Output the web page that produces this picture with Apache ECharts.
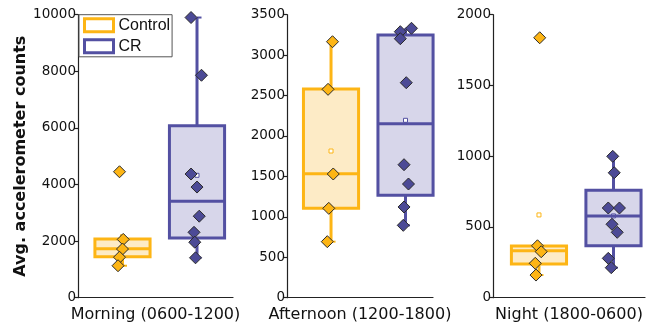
<!DOCTYPE html>
<html>
<head>
<meta charset="utf-8">
<script src="https://cdn.jsdelivr.net/npm/echarts@6/dist/echarts.min.js"></script>
<style>
  html, body { margin: 0; padding: 0; background: #fff; }
  #chart { width: 647px; height: 336px; }
</style>
</head>
<body>
<div id="chart"></div>
<script>
// Groups and time-of-day windows
const groups = ['Control', 'CR'];
const periods = ['Morning (0600-1200)', 'Afternoon (1200-1800)', 'Night (1800-0600)'];

// Y-axis range and tick step for each window
const yAxisMax = [10000, 3500, 2000];
const yTickStep = [2000, 500, 500];

// Box summaries per window: [lower whisker, Q1, median, Q3, upper whisker]
const controlBox = [
  [1130, 1450, 1730, 2070, 2070],
  [693, 1105, 1533, 2581, 3166],
  [160, 238, 332, 365, 365]
];
const crBox = [
  [1410, 2110, 3406, 6078, 9900],
  [895, 1266, 2152, 3249, 3332],
  [212, 367, 577, 759, 999]
];
const controlMean = [2156, 1814, 585];
const crMean = [4325, 2194, 578];

// Individual animals per window
const controlValues = [
  [4450, 2060, 1720, 1430, 1130],
  [3166, 2577, 1530, 1105, 693],
  [1837, 367, 325, 243, 160]
];
const crValues = [
  [9900, 7860, 4370, 3910, 2880, 2310, 1960, 1410],
  [3332, 3290, 3203, 2659, 1645, 1406, 1122, 895],
  [999, 883, 634, 634, 519, 462, 278, 212]
];
// Horizontal jitter of each point, in group-slot units
const controlJitter = [
  [-0.04, 0.01, 0.00, -0.04, -0.06],
  [0.02, -0.04, 0.03, -0.03, -0.05],
  [0.01, -0.02, 0.03, -0.05, -0.04]
];
const crJitter = [
  [-0.08, 0.06, -0.08, 0.00, 0.03, -0.04, -0.03, -0.02],
  [0.08, -0.07, -0.07, 0.01, -0.02, 0.04, -0.02, -0.03],
  [-0.01, 0.01, -0.07, 0.08, -0.02, 0.05, -0.07, -0.03]
];

const palette = {
  Control: { stroke: '#FDB515', fill: '#FDEBC6', point: '#FDB515' },
  CR: { stroke: '#5350A2', fill: '#D7D6EA', point: '#4C4A96' }
};

// Panel placement and the x-extent around the two group slots (1 and 2)
const panels = [
  { left: 78, width: 155, xMin: 0.403, xMax: 2.483 },
  { left: 287, width: 146, xMin: 0.409, xMax: 2.369 },
  { left: 493, width: 152, xMin: 0.383, xMax: 2.423 }
];

const axisFont = 'DejaVu Sans';
const axisColor = '#222';

function boxRenderer(col) {
  return function (params, api) {
    const x = api.value(0);
    const lo = api.value(1), q1 = api.value(2), md = api.value(3),
          q3 = api.value(4), hi = api.value(5), mean = api.value(6);
    const half = api.size([0.37, 0])[0];
    const cx = api.coord([x, md])[0];
    const y = v => api.coord([x, v])[1];
    const kids = [];
    const wStyle = { stroke: col.stroke, lineWidth: 3, fill: null };
    const capStyle = { stroke: col.stroke, lineWidth: 2, fill: null };
    if (hi > q3) {
      kids.push({ type: 'line', shape: { x1: cx, y1: y(q3), x2: cx, y2: y(hi) }, style: wStyle });
      kids.push({ type: 'line', shape: { x1: cx, y1: y(hi), x2: cx + 4.5, y2: y(hi) }, style: capStyle });
    }
    if (lo < q1) {
      kids.push({ type: 'line', shape: { x1: cx, y1: y(q1), x2: cx, y2: y(lo) }, style: wStyle });
      kids.push({ type: 'line', shape: { x1: cx, y1: y(lo), x2: cx + 4.5, y2: y(lo) }, style: capStyle });
    }
    kids.push({
      type: 'rect',
      shape: { x: cx - half, y: y(q3), width: half * 2, height: y(q1) - y(q3) },
      style: { fill: col.fill, stroke: col.stroke, lineWidth: 3 }
    });
    // mean marker sits under the median line
    kids.push({
      type: 'rect',
      shape: { x: cx - 2, y: y(mean) - 2, width: 4, height: 4 },
      style: { fill: '#fff', stroke: col.stroke, lineWidth: 1 }
    });
    kids.push({ type: 'line', shape: { x1: cx - half, y1: y(md), x2: cx + half, y2: y(md) }, style: wStyle });
    return { type: 'group', children: kids };
  };
}

const grid = [], xAxis = [], yAxis = [], series = [];

panels.forEach((p, i) => {
  grid.push({ left: p.left, width: p.width, top: 14.7, height: 283 });
  xAxis.push({
    gridIndex: i, type: 'value', min: p.xMin, max: p.xMax,
    axisLine: { show: true, onZero: false, lineStyle: { color: axisColor, width: 1.2 } },
    axisTick: { show: false }, axisLabel: { show: false }, splitLine: { show: false },
    name: periods[i], nameLocation: 'middle', nameGap: 9,
    nameTextStyle: { fontFamily: axisFont, fontSize: 16, color: '#111' }
  });
  const ya = {
    gridIndex: i, type: 'value', min: 0, max: yAxisMax[i], interval: yTickStep[i],
    axisLine: { show: true, lineStyle: { color: axisColor, width: 1.2 } },
    axisTick: { show: true, length: 4, lineStyle: { color: axisColor, width: 1.2 } },
    axisLabel: { margin: 2, fontFamily: axisFont, fontSize: 13.5, color: '#111', formatter: v => String(v) },
    splitLine: { show: false }
  };
  if (i === 0) {
    ya.name = 'Avg. accelerometer counts';
    ya.nameLocation = 'middle';
    ya.nameGap = 46;
    ya.nameTextStyle = { fontFamily: axisFont, fontSize: 16, fontWeight: 'bold', color: '#111' };
  }
  yAxis.push(ya);

  const sets = [
    { name: 'Control', slot: 1, box: controlBox[i], mean: controlMean[i], vals: controlValues[i], jit: controlJitter[i] },
    { name: 'CR', slot: 2, box: crBox[i], mean: crMean[i], vals: crValues[i], jit: crJitter[i] }
  ];
  sets.forEach(s => {
    const col = palette[s.name];
    series.push({
      name: s.name, type: 'custom', xAxisIndex: i, yAxisIndex: i, z: 2,
      renderItem: boxRenderer(col),
      encode: { x: 0, y: [1, 2, 3, 4, 5, 6] },
      itemStyle: { color: col.stroke },
      data: [[s.slot].concat(s.box, [s.mean])]
    });
    series.push({
      name: s.name + ' points', type: 'scatter', xAxisIndex: i, yAxisIndex: i, z: 3,
      symbol: 'diamond', symbolSize: 12,
      itemStyle: { color: col.point, borderColor: '#2b2b2b', borderWidth: 1, opacity: 1 },
      data: s.vals.map((v, k) => [s.slot + s.jit[k], v])
    });
  });
});

const chart = echarts.init(document.getElementById('chart'), null, { renderer: 'canvas' });
chart.setOption({
  animation: false,
  backgroundColor: '#fff',
  grid, xAxis, yAxis, series,
  legend: {
    orient: 'vertical', left: 79, top: 14.7,
    padding: [2.6, 2, 2.5, 4], itemGap: 5, itemWidth: 29, itemHeight: 13,
    borderColor: '#555', borderWidth: 1, backgroundColor: '#fff',
    selectedMode: false,
    textStyle: { fontFamily: 'Liberation Sans', fontSize: 16, color: '#111', lineHeight: 16 },
    data: groups.map(g => ({
      name: g, icon: 'rect',
      itemStyle: { color: '#fff', borderColor: palette[g].stroke, borderWidth: 3 }
    }))
  }
});
</script>
</body>
</html>
